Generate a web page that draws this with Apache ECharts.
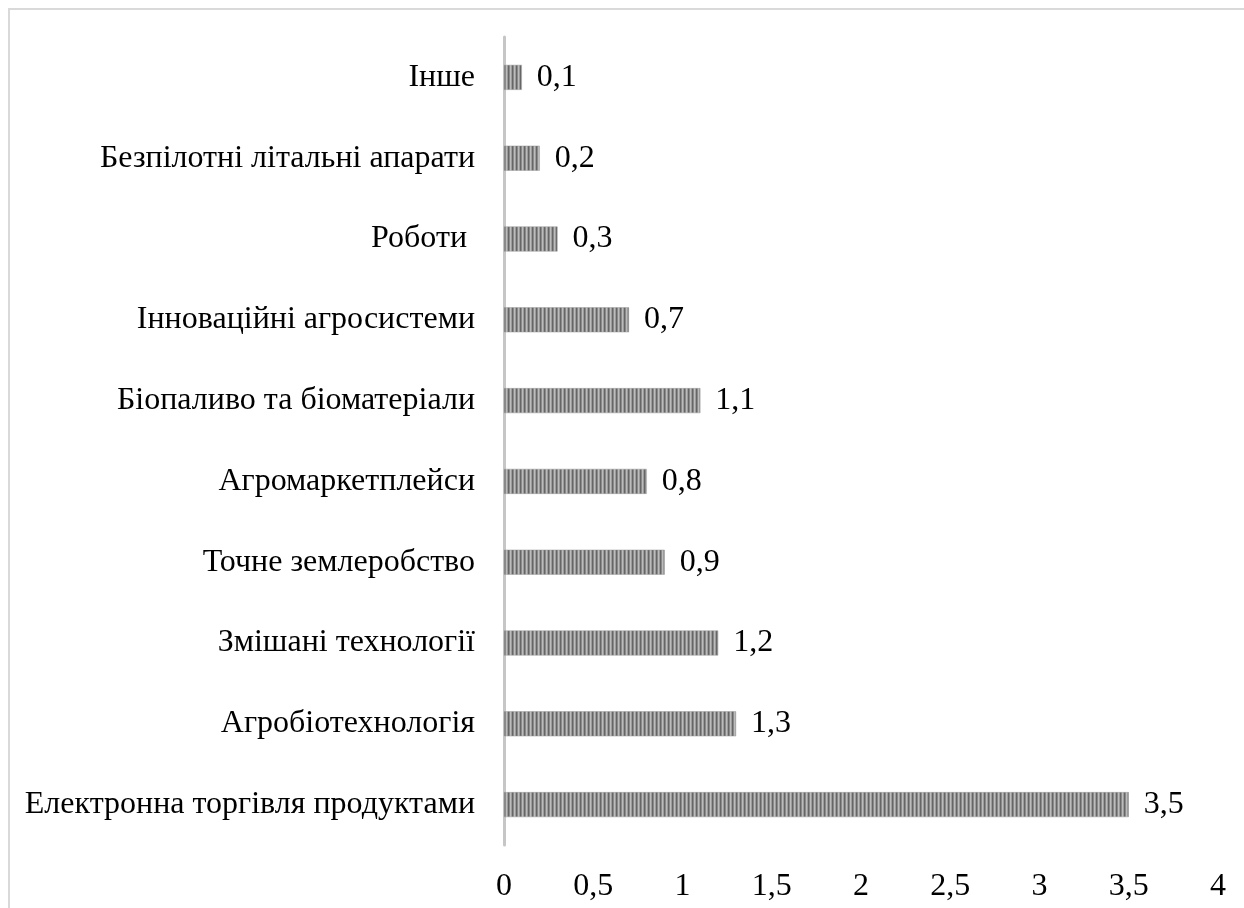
<!DOCTYPE html>
<html>
<head>
<meta charset="utf-8">
<script src="https://cdn.jsdelivr.net/npm/echarts@6/dist/echarts.min.js"></script>
<style>
  html, body { margin: 0; padding: 0; background: #fff; }
  #main { width: 1244px; height: 908px; }
</style>
</head>
<body>
<div id="main"></div>
<script>
var categories = ['Інше', 'Безпілотні літальні апарати', 'Роботи ', 'Інноваційні агросистеми',
    'Біопаливо та біоматеріали', 'Агромаркетплейси', 'Точне землеробство',
    'Змішані технології', 'Агробіотехнологія', 'Електронна торгівля продуктами'];
var values = [0.1, 0.2, 0.3, 0.7, 1.1, 0.8, 0.9, 1.2, 1.3, 3.5];
var xTicks = [0, 0.5, 1, 1.5, 2, 2.5, 3, 3.5, 4];

// смугаста заливка стовпців
var stripe = document.createElement('canvas');
stripe.width = 4;
stripe.height = 4;
var ctx = stripe.getContext('2d');
var shades = ['#666666', '#8a8a8a', '#bcbcbc', '#9c9c9c'];
for (var i = 0; i < shades.length; i++) {
    ctx.fillStyle = shades[i];
    ctx.fillRect(i, 0, 1, 4);
}

var fmt = function (v) { return String(v).replace('.', ','); };
var font = 'Liberation Serif';

var myChart = echarts.init(document.getElementById('main'));
var option = {
    backgroundColor: '#fff',
    animation: false,
    graphic: [{
        type: 'rect',
        shape: { x: 9, y: 9, width: 1260, height: 920 },
        style: { fill: 'none', stroke: '#d9d9d9', lineWidth: 2 },
        silent: true
    }],
    grid: { left: 504, right: 26, top: 37, bottom: 63 },
    xAxis: {
        type: 'value',
        min: xTicks[0],
        max: xTicks[xTicks.length - 1],
        interval: 0.5,
        axisLine: { show: false },
        axisTick: { show: false },
        splitLine: { show: false },
        axisLabel: {
            margin: 26,
            color: '#000',
            fontFamily: font,
            fontSize: 32,
            formatter: function (v) { return fmt(v); }
        }
    },
    yAxis: {
        type: 'category',
        inverse: true,
        data: categories,
        axisLine: { show: true, lineStyle: { color: '#c6c6c6', width: 3 } },
        axisTick: { show: false },
        axisLabel: {
            margin: 29,
            color: '#000',
            fontFamily: font,
            fontSize: 32
        }
    },
    series: [{
        type: 'bar',
        data: values,
        barWidth: 25,
        itemStyle: {
            color: { image: stripe, repeat: 'repeat' },
            borderColor: '#9a9a9a',
            borderWidth: 0.5
        },
        label: {
            show: true,
            position: 'right',
            distance: 15,
            color: '#000',
            fontFamily: font,
            fontSize: 32,
            formatter: function (p) { return fmt(p.value); }
        }
    }]
};
myChart.setOption(option);
</script>
</body>
</html>
